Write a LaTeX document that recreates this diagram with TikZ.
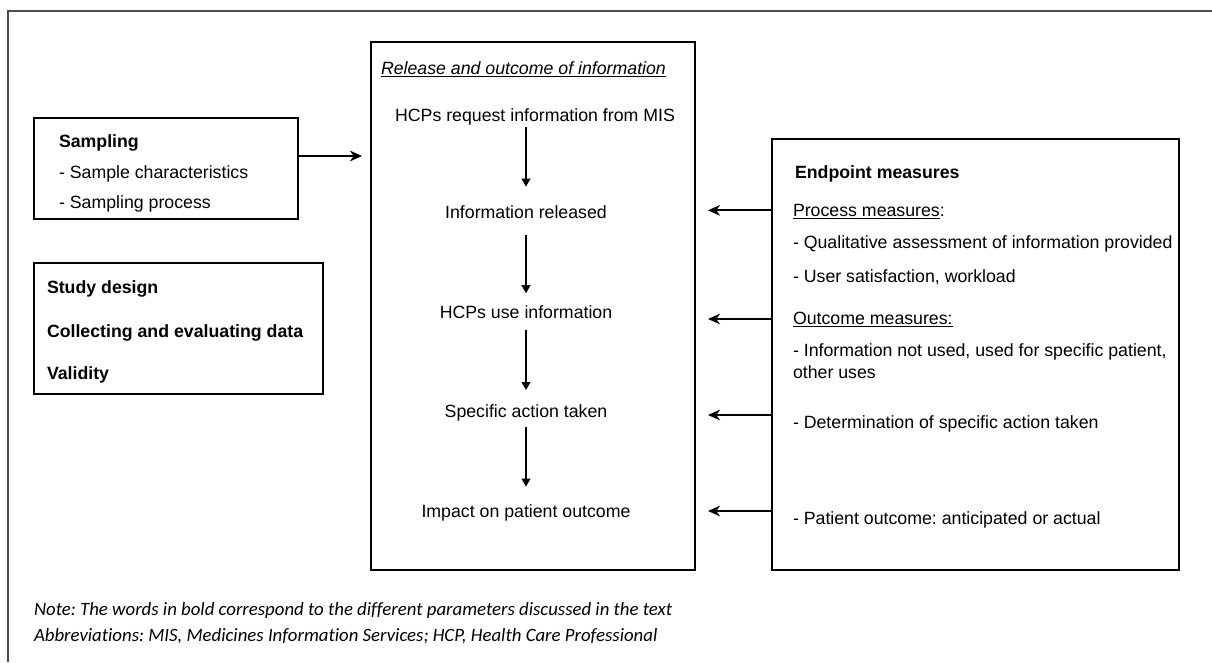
\documentclass[tikz,border=0pt]{standalone}
\usepackage{fontspec}
\setmainfont{Liberation Sans}
\newfontfamily\notefont[Ligatures=NoCommon]{Carlito}
\usetikzlibrary{arrows.meta}
\frenchspacing
\begin{document}
\begin{tikzpicture}[x=0.75pt,y=-0.75pt,
  every node/.style={inner sep=0pt, outer sep=0pt, font=\fontsize{13.3}{16}\selectfont},
  box/.style={draw, line width=1.5pt},
  txt/.style={anchor=west, text height=9.5pt, text depth=0pt},
  flow/.style={anchor=center, text height=9.5pt, text depth=0pt},
  harrow/.style={line width=1.5pt, -{Stealth[length=9pt, width=8pt, inset=2.8pt]}},
  varrow/.style={line width=1.2pt, -{Triangle[length=6pt, width=6.5pt]}},
  notetxt/.style={anchor=west, text height=8.5pt, text depth=0pt, font=\notefont\itshape\fontsize{14.1}{16}\selectfont}]
\useasboundingbox (0,0) rectangle (1212,662);
% outer frame
\coordinate (ob1) at (8,662);
\coordinate (ob2) at (8,11);
\coordinate (ob3) at (1212,11);
\draw[line width=1.1pt, black!70] (ob1) -- (ob2) -- (ob3);

% boxes
\node[box, minimum width=198pt, minimum height=75.75pt] (samp) at (166,168.5) {};
\node[box, minimum width=216.75pt, minimum height=98.25pt] (study) at (178.5,328.5) {};
\node[box, minimum width=243pt, minimum height=396pt] (mid) at (533,306) {};
\node[box, minimum width=305.25pt, minimum height=323.25pt] (endp) at (975.5,354.5) {};

% sampling box text
\node[txt] (s1) at (59,141) {\bfseries Sampling};
\node[txt] (s2) at (59,172) {- Sample characteristics};
\node[txt] (s3) at (59,202) {- Sampling process};

% study box text
\node[txt] (d1) at (47,287.5) {\bfseries Study design};
\node[txt] (d2) at (47,331) {\bfseries Collecting and evaluating data};
\node[txt] (d3) at (47,373) {\bfseries Validity};

% middle box
\node[txt] (mtitle) at (381,67.7) {\underline{\itshape Release and outcome of information}};
\node[flow] (t1) at (535,115.3) {HCPs request information from MIS};
\node[flow] (t2) at (526,212.5) {Information released};
\node[flow] (t3) at (526,311.7) {HCPs use information};
\node[flow] (t4) at (526,411) {Specific action taken};
\node[flow] (t5) at (526,510.7) {Impact on patient outcome};

\draw[varrow, shorten <=3.8pt, shorten >=14.6pt] (t2.north |- t1.south) -- (t2.north);
\draw[varrow, shorten <=12.2pt, shorten >=9.1pt] (t2.south) -- (t3.north);
\draw[varrow, shorten <=9pt, shorten >=11pt] (t3.south) -- (t4.north);
\draw[varrow, shorten <=7pt, shorten >=13.3pt] (t4.south) -- (t5.north);

% endpoint box
\node[txt] (e1) at (795,171.7) {\bfseries Endpoint measures};
\node[txt] (e2) at (793,210.3) {\underline{Process measures}:};
\node[txt] (e3) at (793,242) {- Qualitative assessment of information provided};
\node[txt] (e4) at (793,275.7) {- User satisfaction, workload};
\node[txt] (e5) at (793,318.3) {\underline{Outcome measures:}};
\node[anchor=north west, align=left, font=\fontsize{13.3}{16}\selectfont] (e6) at (793,344) {- Information not used, used for specific patient,\\other uses};
\node[txt] (e7) at (793,421.7) {- Determination of specific action taken};
\node[txt] (e8) at (793,517.7) {- Patient outcome: anticipated or actual};

% arrows
\coordinate (sa) at (0,156);
\draw[harrow, shorten >=6.75pt] (samp.east |- sa) -- (mid.west |- sa);
\coordinate (ha1) at (0,210.3);
\coordinate (ha2) at (0,319);
\coordinate (ha3) at (0,415);
\coordinate (ha4) at (0,511);
\draw[harrow, shorten >=9.75pt] (endp.west |- ha1) -- (mid.east |- ha1);
\draw[harrow, shorten >=9.75pt] (endp.west |- ha2) -- (mid.east |- ha2);
\draw[harrow, shorten >=9.75pt] (endp.west |- ha3) -- (mid.east |- ha3);
\draw[harrow, shorten >=9.75pt] (endp.west |- ha4) -- (mid.east |- ha4);

% notes
\node[notetxt] (n1) at (34,610) {Note: The words in bold correspond to the different parameters discussed in the text};
\node[notetxt] (n2) at (34,636) {Abbreviations: MIS, Medicines Information Services; HCP, Health Care Professional};
\end{tikzpicture}
\end{document}
